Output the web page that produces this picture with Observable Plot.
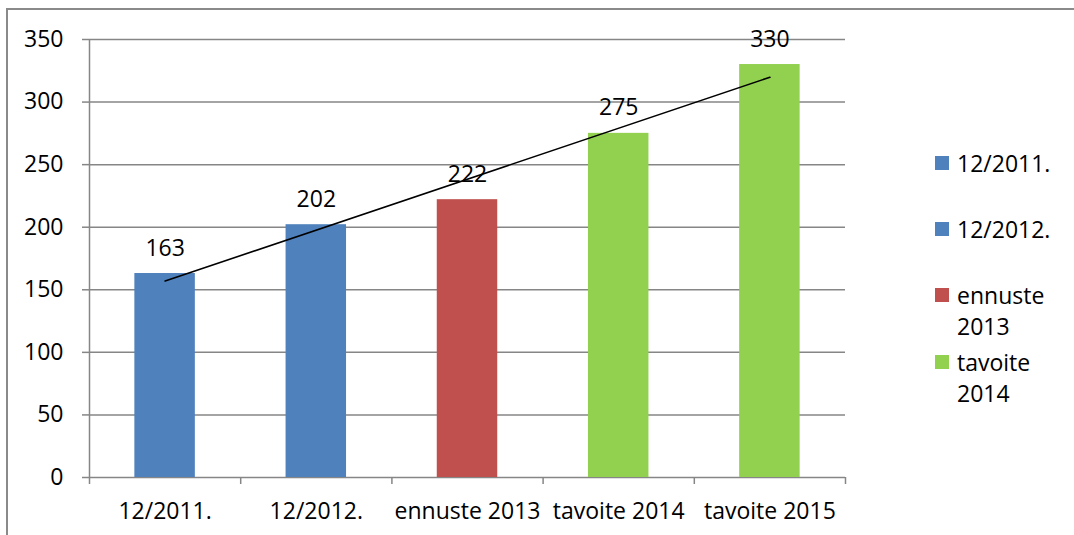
<!DOCTYPE html>
<html>
<head>
<meta charset="utf-8">
<script src="https://cdn.jsdelivr.net/npm/d3@7"></script>
<script src="https://cdn.jsdelivr.net/npm/@observablehq/plot@0.6"></script>
<style>
  html, body { margin: 0; padding: 0; background: #fff; overflow: hidden; }
  #wrap { position: relative; width: 1074px; height: 535px; font-family: "Open Sans", Lato, sans-serif; }
  #frame { position: absolute; left: 6px; top: 8px; right: -20px; bottom: -20px; border: 2px solid #8a8a8a; }
  #chart { position: absolute; left: 0; top: 0; }
  .entry { position: absolute; left: 935px; font-size: 23px; line-height: 31px; color: #000; }
  .entry .sw { position: absolute; left: 0; top: 8px; width: 14px; height: 14px; }
  .entry .tx { position: absolute; left: 22px; top: 0; width: 112px; }
</style>
</head>
<body>
<div id="wrap">
  <div id="frame"></div>
  <div id="chart"></div>
  <div id="legend"></div>
</div>
<script>
const categories = ["12/2011.", "12/2012.", "ennuste 2013", "tavoite 2014", "tavoite 2015"];
const values = [163, 202, 222, 275, 330];
const barColors = ["#4F81BD", "#4F81BD", "#C0504D", "#92D050", "#92D050"];
const yTicks = [0, 50, 100, 150, 200, 250, 300, 350];
// Legend as shown in the original (last entry is cut off there)
const legendLabels = ["12/2011.", "12/2012.", "ennuste 2013", "tavoite 2014"];
const legendColors = ["#4F81BD", "#4F81BD", "#C0504D", "#92D050"];

const data = categories.map((c, i) => ({cat: c, i, value: values[i], color: barColors[i]}));

// least-squares linear trend line over the category positions
const n = values.length;
const xs = values.map((_, i) => i + 1);
const mx = d3.mean(xs), my = d3.mean(values);
const slope = d3.sum(xs.map((x, k) => (x - mx) * (values[k] - my))) / d3.sum(xs.map(x => (x - mx) ** 2));
const icpt = my - slope * mx;
const trend = [0, n - 1].map(i => ({x: i + 0.5, y: icpt + slope * (i + 1)}));

const W = 1074, H = 535;
const mL = 89, mR = 229, mT = 39, mB = 58;
const step = (W - mL - mR) / n;
const barInset = step * 0.3;
const grid = "#868686";
const FONT = "'Open Sans', Lato, sans-serif";

const chart = Plot.plot({
  width: W,
  height: H,
  marginLeft: mL,
  marginRight: mR,
  marginTop: mT,
  marginBottom: mB,
  style: {fontFamily: FONT, fontSize: "23px", color: "#000", background: "transparent", overflow: "visible"},
  x: {domain: [0, n]},
  y: {domain: [0, 350]},
  marks: [
    Plot.ruleY(yTicks, {stroke: grid, strokeWidth: 1.5}),
    Plot.ruleX([0], {stroke: grid, strokeWidth: 1.5}),
    Plot.rectY(data, {x1: d => d.i, x2: d => d.i + 1, y: "value", fill: "color", insetLeft: barInset, insetRight: barInset}),
    Plot.line(trend, {x: "x", y: "y", stroke: "#000", strokeWidth: 1.6}),
    Plot.text(data, {x: d => d.i + 0.5, y: "value", text: d => String(d.value), lineAnchor: "bottom", dy: -18, fill: "#000", fontSize: 23}),
    Plot.axisY({ticks: yTicks, tickSize: 7, tickPadding: 19, stroke: grid, strokeWidth: 1.5, fill: "#000", label: null, fontSize: 23}),
    Plot.axisX({ticks: d3.range(0, n + 1), tickSize: 7, tickFormat: () => "", stroke: grid, strokeWidth: 1.5, label: null}),
    Plot.axisX({ticks: d3.range(0, n).map(i => i + 0.5), tickSize: 0, tickPadding: 25, tickFormat: v => categories[Math.round(v - 0.5)], fill: "#000", label: null, fontSize: 23})
  ]
});
document.getElementById("chart").appendChild(chart);

const legendTops = [148, 214, 280, 347];
const lg = document.getElementById("legend");
legendLabels.forEach((lab, k) => {
  const e = document.createElement("div");
  e.className = "entry";
  e.style.top = legendTops[k] + "px";
  const sw = document.createElement("div");
  sw.className = "sw";
  sw.style.background = legendColors[k];
  const tx = document.createElement("div");
  tx.className = "tx";
  tx.textContent = lab;
  e.appendChild(sw);
  e.appendChild(tx);
  lg.appendChild(e);
});
</script>
</body>
</html>
